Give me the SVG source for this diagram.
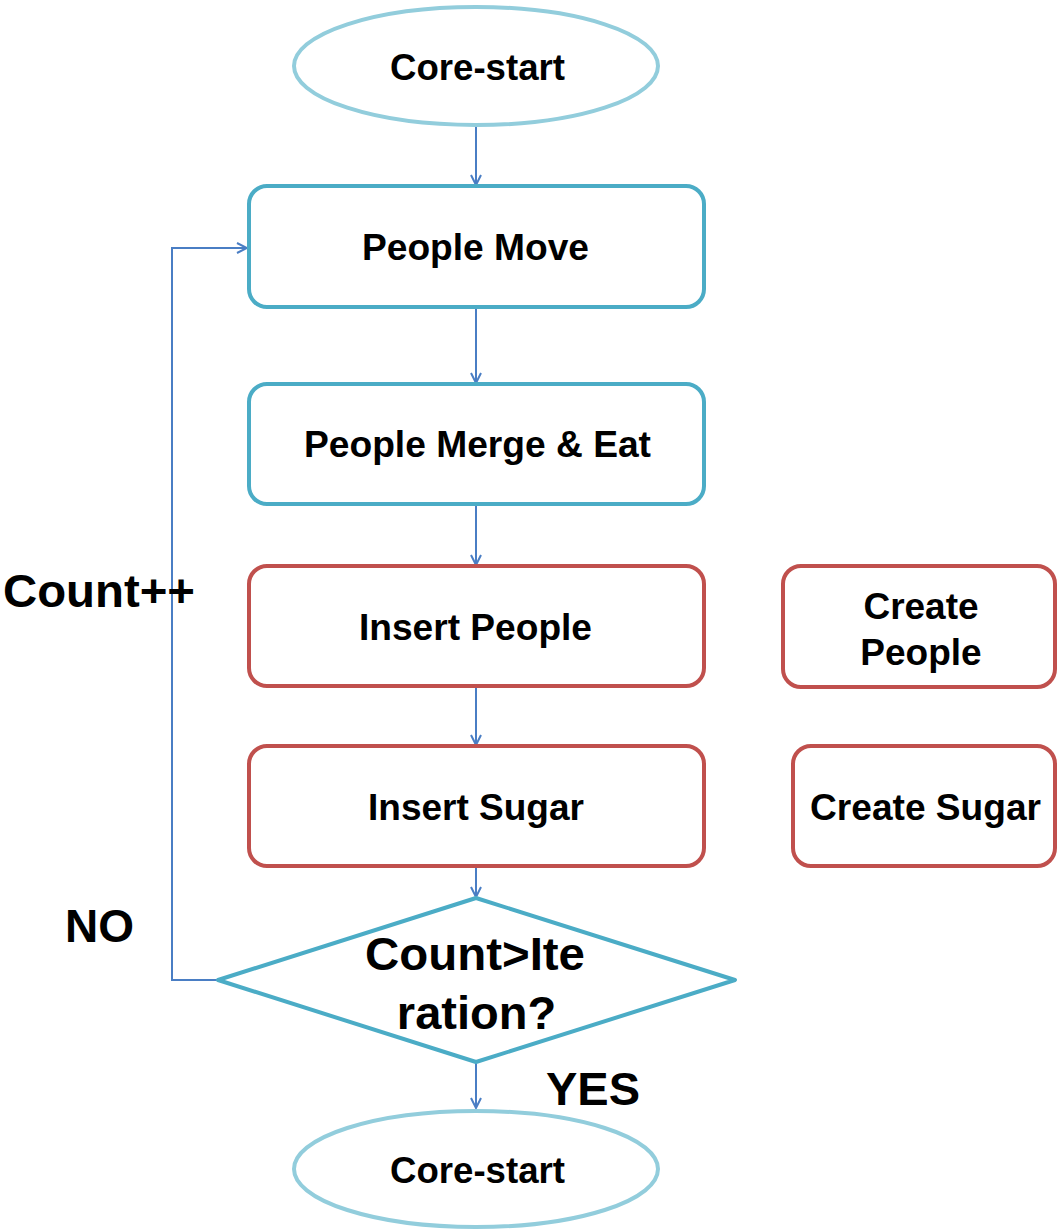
<svg xmlns="http://www.w3.org/2000/svg" width="1058" height="1229" viewBox="0 0 1058 1229">
<style>
.t{font-family:"Liberation Sans",Arial,sans-serif;font-weight:bold;fill:#000;text-anchor:middle}
.lbl{font-family:"Liberation Sans",Arial,sans-serif;font-weight:bold;fill:#000}
.term{fill:#fff;stroke:#92CDDC;stroke-width:4}
.blue{fill:#fff;stroke:#4BACC6;stroke-width:4}
.red{fill:#fff;stroke:#C0504D;stroke-width:4}
.c{fill:none;stroke:#4A7EC4;stroke-width:2}
</style>
<defs>
<marker id="ah" viewBox="0 0 12 12" refX="11" refY="6" markerWidth="12" markerHeight="12" markerUnits="userSpaceOnUse" orient="auto">
<path d="M1,1 L11,6 L1,11" fill="none" stroke="#4A7EC4" stroke-width="2"/>
</marker>
</defs>
<rect width="1058" height="1229" fill="#fff"/>
<g id="connectors">
<line class="c" x1="476" y1="126" x2="476" y2="185" marker-end="url(#ah)"/>
<line class="c" x1="476" y1="308" x2="476" y2="383" marker-end="url(#ah)"/>
<line class="c" x1="476" y1="505" x2="476" y2="565" marker-end="url(#ah)"/>
<line class="c" x1="476" y1="687" x2="476" y2="745" marker-end="url(#ah)"/>
<line class="c" x1="476" y1="867" x2="476" y2="897" marker-end="url(#ah)"/>
<line class="c" x1="476" y1="1063" x2="476" y2="1108" marker-end="url(#ah)"/>
<polyline class="c" points="218,980 172,980 172,248 247,248" marker-end="url(#ah)"/>
</g>
<g id="start">
<ellipse class="term" cx="476" cy="66" rx="182" ry="59"/>
<text class="t" x="477.5" y="80" font-size="37" textLength="175" lengthAdjust="spacingAndGlyphs">Core-start</text>
</g>
<g id="people-move">
<rect class="blue" x="249" y="186" width="455" height="121" rx="18"/>
<text class="t" x="475.5" y="260" font-size="37" textLength="227" lengthAdjust="spacingAndGlyphs">People Move</text>
</g>
<g id="people-merge">
<rect class="blue" x="249" y="384" width="455" height="120" rx="18"/>
<text class="t" x="477.5" y="457" font-size="37" textLength="347" lengthAdjust="spacingAndGlyphs">People Merge &amp; Eat</text>
</g>
<g id="insert-people">
<rect class="red" x="249" y="566" width="455" height="120" rx="18"/>
<text class="t" x="475.5" y="640" font-size="37" textLength="233" lengthAdjust="spacingAndGlyphs">Insert People</text>
</g>
<g id="insert-sugar">
<rect class="red" x="249" y="746" width="455" height="120" rx="18"/>
<text class="t" x="476" y="820" font-size="37">Insert Sugar</text>
</g>
<g id="create-people">
<rect class="red" x="783" y="566" width="272" height="121" rx="18"/>
<text class="t" x="921" y="619" font-size="37">Create</text>
<text class="t" x="921" y="665" font-size="37">People</text>
</g>
<g id="create-sugar">
<rect class="red" x="793" y="746" width="262" height="120" rx="18"/>
<text class="t" x="925.5" y="820" font-size="37" textLength="231" lengthAdjust="spacingAndGlyphs">Create Sugar</text>
</g>
<g id="decision">
<polygon class="blue" points="476,898 735,980 476,1062 218,980" stroke-linejoin="round"/>
<text class="t" x="475" y="970" font-size="46" textLength="220" lengthAdjust="spacingAndGlyphs">Count&gt;Ite</text>
<text class="t" x="476.5" y="1029" font-size="47">ration?</text>
</g>
<g id="end">
<ellipse class="term" cx="476" cy="1169" rx="182" ry="58"/>
<text class="t" x="477.5" y="1183" font-size="37" textLength="175" lengthAdjust="spacingAndGlyphs">Core-start</text>
</g>
<g id="labels">
<text class="lbl" x="3" y="607" font-size="46" textLength="192" lengthAdjust="spacingAndGlyphs">Count++</text>
<text class="lbl" x="65" y="942" font-size="46">NO</text>
<text class="lbl" x="546" y="1105" font-size="47">YES</text>
</g>
</svg>
